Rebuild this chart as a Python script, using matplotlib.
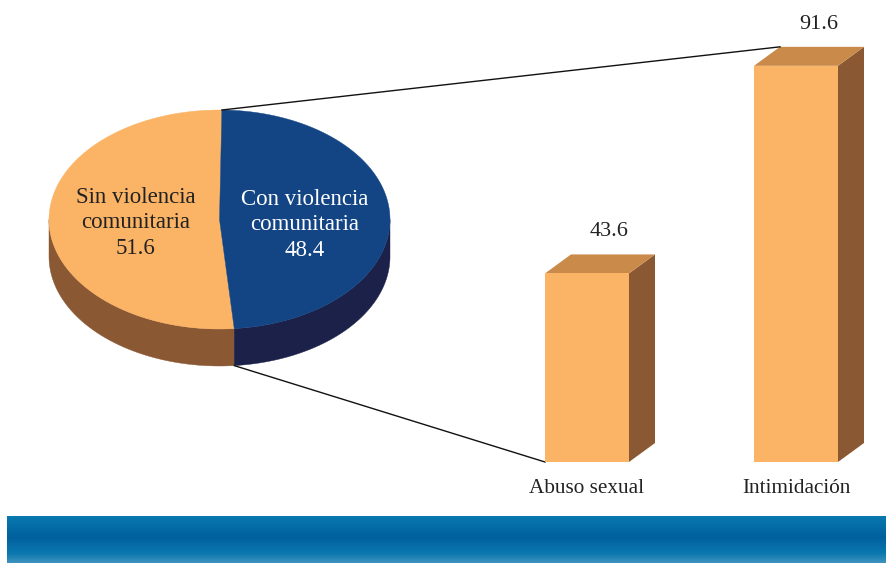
import numpy as np
import matplotlib
matplotlib.use("Agg")
import matplotlib.pyplot as plt
from matplotlib.patches import Polygon
from matplotlib.colors import LinearSegmentedColormap

pie_labels = ["Con violencia\ncomunitaria", "Sin violencia\ncomunitaria"]
pie_values = [48.4, 51.6]
bar_labels = ["Abuso sexual", "Intimidación"]
bar_values = [43.6, 91.6]

W, H = 886, 563
plt.rcParams['font.family'] = ['Liberation Serif', 'DejaVu Serif']
fig = plt.figure(figsize=(W/100, H/100), dpi=100)
ax = fig.add_axes([0, 0, 1, 1])
ax.set_xlim(0, W); ax.set_ylim(H, 0); ax.axis('off')

ORANGE, ORANGE_D, ORANGE_T = '#FBB365', '#8A5833', '#C98A4A'
NAVY, NAVY_D = '#134585', '#1B2148'
TXT = '#222222'

# pie
cx, cy, rx, ry, depth = 219.5, 219.5, 170.5, 109.5, 37
start = 89.2
def ell(a, dy=0):
    a = np.radians(a)
    return np.column_stack([cx + rx*np.cos(a), cy - ry*np.sin(a) + dy])

split = start - pie_values[0]/100*360
con = np.linspace(start, split, 200)
sin = np.linspace(split, split - pie_values[1]/100*360, 200)

# side walls
a = np.linspace(-180, split, 120)
ax.add_patch(Polygon(np.vstack([ell(a), ell(a[::-1], depth)]), fc=ORANGE_D, ec=ORANGE_D, lw=.3, zorder=2))
a = np.linspace(split, 0, 120)
ax.add_patch(Polygon(np.vstack([ell(a), ell(a[::-1], depth)]), fc=NAVY_D, ec=NAVY_D, lw=.3, zorder=2))
# top faces
ax.add_patch(Polygon(np.vstack([[cx, cy], ell(sin)]), fc=ORANGE, ec=ORANGE, lw=.3, zorder=3))
ax.add_patch(Polygon(np.vstack([[cx, cy], ell(con)]), fc=NAVY, ec=NAVY, lw=.3, zorder=3))

ax.text(305, 225, f"{pie_labels[0]}\n{pie_values[0]}", color='white', ha='center', va='center',
        fontsize=16.5, linespacing=1.27, zorder=5)
ax.text(135.5, 223, f"{pie_labels[1]}\n{pie_values[1]}", color=TXT, ha='center', va='center',
        fontsize=16.5, linespacing=1.27, zorder=5)

# bars
base, scale, bw, dx, dy = 462, 4.325, 84, 26, 19
lefts = [545, 754]
for x0, v, lab in zip(lefts, bar_values, bar_labels):
    top = base - v*scale
    ax.add_patch(Polygon([(x0+bw, top), (x0+bw+dx, top-dy), (x0+bw+dx, base-dy), (x0+bw, base)],
                         fc=ORANGE_D, ec='none', zorder=3))
    ax.add_patch(Polygon([(x0, top), (x0+dx, top-dy), (x0+bw+dx, top-dy), (x0+bw, top)],
                         fc=ORANGE_T, ec='none', zorder=3))
    ax.add_patch(Polygon([(x0, top), (x0+bw, top), (x0+bw, base), (x0, base)],
                         fc=ORANGE, ec='none', zorder=3))
    ax.text(x0+64.5, top-41.5, f"{v}", color=TXT, ha='center', va='center', fontsize=16)
    ax.text(x0+42, 488.5, lab, color=TXT, ha='center', va='center', fontsize=15.3)

# connector lines
p_top = ell(np.array([start]))[0]
p_bot = ell(np.array([split]), depth)[0]
ax.plot([p_top[0], lefts[1]+dx], [p_top[1], base-bar_values[1]*scale-dy], color='#111111', lw=1.0, zorder=4)
ax.plot([p_bot[0], lefts[0]], [p_bot[1], base], color='#111111', lw=1.0, zorder=2)

# footer band
cmap = LinearSegmentedColormap.from_list('band', [(0, '#0879AF'), (.45, '#01609E'), (.8, '#0A78AE'), (1, '#3F92BE')])
ax.imshow(np.linspace(0, 1, 64)[:, None], cmap=cmap, extent=(7, W, 563, 516), aspect='auto', zorder=1)
ax.set_xlim(0, W); ax.set_ylim(H, 0)

fig.savefig('out.png', dpi=100, facecolor='white')
